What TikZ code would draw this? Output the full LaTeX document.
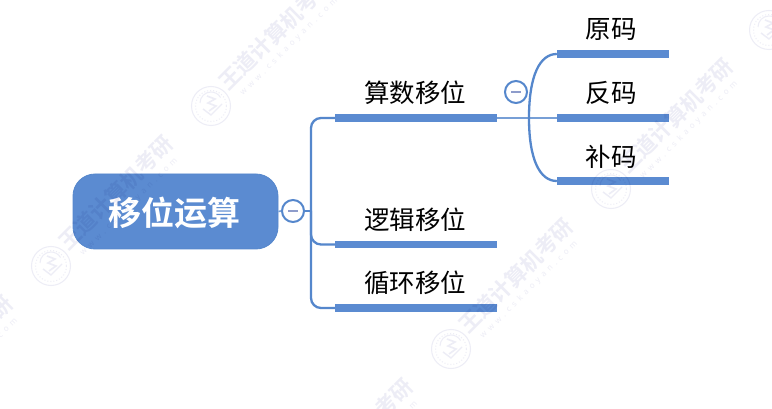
\documentclass[tikz,border=0pt]{standalone}
\usepackage{fontspec}
\setmainfont{Noto Sans CJK SC}[BoldFont={Noto Sans CJK SC Bold}]
\newfontfamily\wmlatin{Noto Sans}[LetterSpace=50]
\usetikzlibrary{calc}
\definecolor{mainblue}{HTML}{5B8BD1}
\definecolor{linkblue}{HTML}{5587CC}
\definecolor{wm}{HTML}{EDEDF6}
\definecolor{minusc}{HTML}{8E9CCB}
\tikzset{
  x=1pt,y=-1pt,
  rootbox/.style={rectangle,rounded corners=22pt,fill=mainblue,draw=linkblue,line width=0.8pt,minimum width=205pt,minimum height=75pt,inner sep=0pt},
  roottext/.style={inner sep=0pt,text=white,font=\fontsize{33}{33}\selectfont\bfseries},
  barbig/.style={rectangle,fill=mainblue,draw=none,minimum width=162pt,minimum height=7.5pt,inner sep=0pt},
  barsmall/.style={rectangle,fill=mainblue,draw=none,minimum width=112pt,minimum height=7.5pt,inner sep=0pt},
  lab/.style={inner sep=0pt,text=black,font=\fontsize{25.5}{25.5}\selectfont},
  collapser/.style={circle,draw=linkblue,line width=2pt,fill=white,minimum size=22pt,inner sep=0pt},
  link/.style={draw=linkblue,line width=2.3pt},
  linkthin/.style={draw=linkblue!80,line width=1.6pt},
  wmseal/.style={draw=wm,line width=1pt},
  wmbig/.style={text=wm,rotate=45,inner sep=0pt,font=\fontsize{21.5}{21.5}\selectfont\bfseries},
  wmsmall/.style={text=wm,rotate=45,inner sep=0pt,font=\fontsize{8}{8}\selectfont\wmlatin},
}
\newcommand{\wmark}[2]{%
  \begin{scope}[shift={(#1,#2)}]
    \draw[wmseal] (0,0) circle[radius=19.5];
    \draw[wmseal,dotted] (0,0) circle[radius=15.5];
    \draw[wmseal] (-11,-3) arc[start angle=180,end angle=330,radius=11];
    \draw[wmseal,line width=1.6pt] (-4,-10) -- (4,-7) -- (-3,-3) -- (5,0) -- (-2,5);
    \draw[wmseal,line width=1.4pt] (-8,3) -- (0,9) -- (11,-2);
    \node[wmbig] at (65,-73) {王道计算机考研};
    \node[wmsmall] at (78,-59) {www.cskaoyan.com};
  \end{scope}}
\begin{document}
\begin{tikzpicture}
\useasboundingbox (0,0) rectangle (772,409);
\fill[white] (0,0) rectangle (772,409);
% nodes
\node[rootbox] (root) at (175.5,211.5) {};
\node[roottext] (roottxt) at (174,212.5) {移位运算};
\node[collapser] (c1) at (293,211) {};
\coordinate (spine) at (311,211);
\node[barbig] (b1) at (416,118) {};
\node[barbig] (b2) at (416,244.5) {};
\node[barbig] (b3) at (416,308) {};
\node[lab] (t1) at (415,92.5) {算数移位};
\node[lab] (t2) at (415,219.5) {逻辑移位};
\node[lab] (t3) at (415,282.5) {循环移位};
\node[collapser] (c2) at (516,92) {};
\coordinate (fork) at (529,118);
\node[barsmall] (r1) at (613,54) {};
\node[barsmall] (r2) at (613,118) {};
\node[barsmall] (r3) at (613,181) {};
\node[lab] (u1) at (611,29.5) {原码};
\node[lab] (u2) at (611,92.5) {反码};
\node[lab] (u3) at (611,156.5) {补码};
% connectors
\draw[linkthin] (root.east) -- (c1.west);
\draw[link] (c1.east) -- (spine);
\draw[link,rounded corners=10pt] (b1.west) -| (spine);
\draw[link,rounded corners=10pt] (b3.west) -| (spine);
\draw[link,rounded corners=10pt] (b2.west) -| (spine);
\draw[linkthin] (b1.east) -- (r2.west);
\draw[link] (fork) .. controls (529,75) and (540,54) .. (r1.west);
\draw[link] (fork) .. controls (529,160) and (540,181) .. (r3.west);
% minus marks
\draw[minusc,line width=2.4pt] ($(c1)+(-5,0)$) -- ($(c1)+(5,0)$);
\draw[minusc,line width=2.4pt] ($(c2)+(-5,0)$) -- ($(c2)+(5,0)$);
% faint marks printed over everything
\begin{scope}[blend mode=multiply]
\wmark{51}{266}
\wmark{211}{106}
\wmark{-109}{426}
\wmark{451}{349}
\wmark{611}{189}
\wmark{769}{30}
\wmark{291}{509}
\end{scope}
\end{tikzpicture}
\end{document}
